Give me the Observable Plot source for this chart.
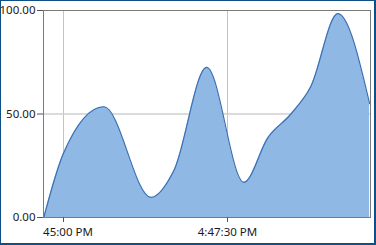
<!DOCTYPE html>
<html>
<head>
<meta charset="utf-8">
<script src="https://cdn.jsdelivr.net/npm/d3@7"></script>
<script src="https://cdn.jsdelivr.net/npm/@observablehq/plot@0.6"></script>
<style>
  html, body { margin: 0; padding: 0; background: #fff; }
  #wrap { position: relative; width: 376px; height: 245px; overflow: hidden; }
  #border { position: absolute; left: 0; top: 0; width: 376px; height: 245px; box-sizing: border-box;
            border: 1px solid #0e4f86; border-bottom-width: 2px; border-right-width: 2px; pointer-events: none; }
</style>
</head>
<body>
<div id="wrap"><div id="border"></div></div>
<script>
// Data (times on the same day)
const times = ["16:44:42", "16:45:00", "16:45:37", "16:46:20", "16:46:41", "16:47:11",
               "16:47:45", "16:48:07", "16:48:28", "16:48:46", "16:49:11", "16:49:40"];
const values = [0, 31, 53.5, 9.7, 22.7, 72.5, 17, 38.6, 50, 63, 98.5, 55];
const xTickTimes = ["16:45:00", "16:47:30"];
const xTickLabels = ["45:00 PM", "4:47:30 PM"];
const yTicks = [0, 50, 100];

const toDate = s => new Date("2020-01-01T" + s + "Z");
const data = times.map((t, i) => ({t: toDate(t), v: values[i]}));
const xTicks = xTickTimes.map(toDate);
const labelOf = new Map(xTicks.map((d, i) => [+d, xTickLabels[i]]));

const font = "'Segoe UI', 'Noto Sans', 'Open Sans', sans-serif";
const chart = Plot.plot({
  width: 376,
  height: 245,
  marginLeft: 43,
  marginRight: 6,
  marginTop: 10,
  marginBottom: 28,
  style: {background: "transparent", fontFamily: font, fontSize: "11.5px", color: "#1a1a1a"},
  x: {type: "utc", domain: [toDate("16:44:41.7"), toDate("16:49:40.8")], ticks: xTicks,
      tickFormat: d => labelOf.get(+d), tickSize: 5, tickPadding: 5, label: null},
  y: {domain: [0, 100], ticks: yTicks, tickFormat: d => d.toFixed(2), tickSize: 6, tickPadding: 2, label: null},
  marks: [
    Plot.gridX(xTicks, {stroke: "#c4c4c4", strokeOpacity: 1}),
    Plot.gridY([50], {stroke: "#cfcfcf", strokeOpacity: 1, strokeWidth: 1.5}),
    Plot.areaY(data, {x: "t", y: "v", curve: "monotone-x", fill: "#8fb9e4", fillOpacity: 1}),
    Plot.lineY(data, {x: "t", y: "v", curve: "monotone-x", stroke: "#3b70b4", strokeWidth: 1.2}),
    Plot.frame({stroke: "#7a7a7a"}),
    Plot.axisY({ticks: yTicks, tickFormat: d => d.toFixed(2), tickSize: 6, tickPadding: 2, stroke: "#555", label: null}),
    Plot.axisX({ticks: xTicks, tickFormat: d => labelOf.get(+d), tickSize: 5, tickPadding: 5, stroke: "#555", label: null, dx: 0})
  ]
});
// shift the clipped first label so it starts at the plot's left edge, as in the reference
chart.querySelectorAll("[aria-label='x-axis tick label'] text").forEach(t => {
  if (t.textContent === xTickLabels[0]) t.setAttribute("dx", "4.5");
});
document.getElementById("wrap").prepend(chart);
</script>
</body>
</html>
